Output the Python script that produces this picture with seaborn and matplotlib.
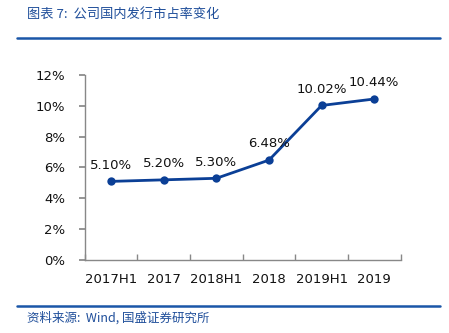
import matplotlib
matplotlib.use("Agg")
import matplotlib.pyplot as plt
import seaborn as sns
import pandas as pd
import numpy as np
from matplotlib.ticker import FixedLocator, PercentFormatter

periods = ["2017H1", "2017", "2018H1", "2018", "2019H1", "2019"]
share = [5.10, 5.20, 5.30, 6.48, 10.02, 10.44]
labels = ["5.10%", "5.20%", "5.30%", "6.48%", "10.02%", "10.44%"]
yticks = [0, 2, 4, 6, 8, 10, 12]

df = pd.DataFrame({"period": periods, "share": share})

sns.set_theme(style="white")
plt.rcParams["font.family"] = ["DejaVu Sans", "Noto Sans CJK SC"]

fig = plt.figure(figsize=(4.49, 3.33), dpi=100)
ax = fig.add_axes([0.189, 0.219, 0.703, 0.556])

x = np.arange(len(periods))
df["x"] = x
line_color = "#0B3F96"
sns.lineplot(data=df, x="x", y="share", ax=ax, color=line_color, linewidth=2,
             marker="o", markersize=6, markeredgewidth=0)

for xi, yi, lab in zip(x, share, labels):
    ax.annotate(lab, (xi, yi), xytext=(0, 7), textcoords="offset points",
                ha="center", va="bottom", fontsize=9.5, color="#111111")

ax.set_xlim(-0.5, len(periods) - 0.5)
ax.set_ylim(0, 12)
ax.set_yticks(yticks)
ax.yaxis.set_major_formatter(PercentFormatter(decimals=0))
ax.set_xticks(x)
ax.set_xticklabels(periods)
ax.xaxis.set_minor_locator(FixedLocator(np.arange(-0.5, len(periods), 1.0)))
ax.tick_params(axis="x", which="major", length=0, pad=9, labelsize=9.5, colors="#111111")
ax.tick_params(axis="x", which="minor", length=4, color="#888888", direction="in", bottom=True)
ax.tick_params(axis="y", which="major", length=4, color="#888888", direction="out", left=True,
               labelsize=9.5, colors="#111111", pad=10)
ax.set_xlabel("")
ax.set_ylabel("")
for s in ["top", "right"]:
    ax.spines[s].set_visible(False)
for s in ["left", "bottom"]:
    ax.spines[s].set_color("#888888")
    ax.spines[s].set_linewidth(1)
ax.grid(False)

cjk = ["Noto Sans CJK SC", "DejaVu Sans"]
fig.text(0.06, 0.955, "图表 7:  公司国内发行市占率变化", fontsize=9.5, color="#1F4E9A",
         family=cjk, ha="left", va="center", style="italic")
fig.add_artist(plt.Line2D([0.038, 0.98], [0.886, 0.886], color="#1A56A8", linewidth=1.8))
fig.add_artist(plt.Line2D([0.038, 0.98], [0.080, 0.080], color="#1A56A8", linewidth=1.8))
fig.text(0.06, 0.046, "资料来源:  Wind, 国盛证券研究所", fontsize=9, color="#1F4E9A",
         family=cjk, ha="left", va="center", style="italic")

fig.savefig("out.png", dpi=100)
